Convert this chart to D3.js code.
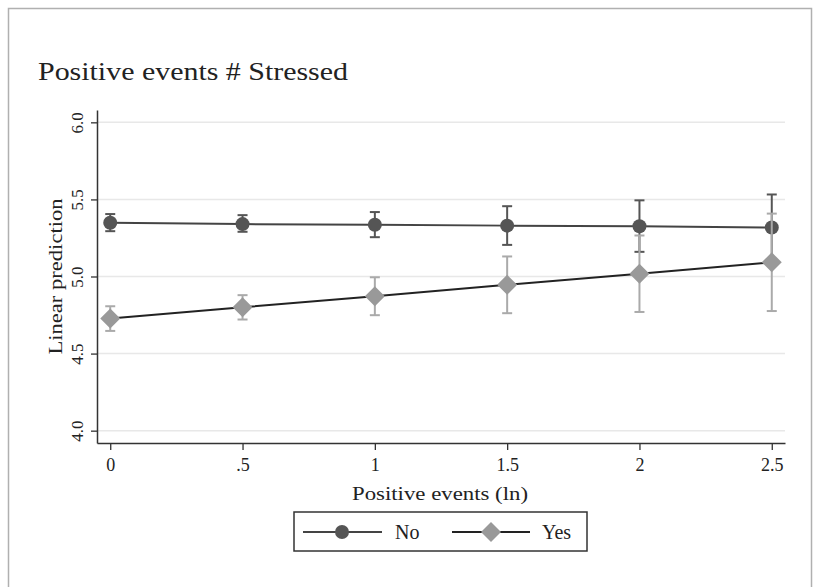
<!DOCTYPE html>
<html>
<head>
<meta charset="utf-8">
<script src="https://cdn.jsdelivr.net/npm/d3@7"></script>
<style>
  html, body { margin: 0; padding: 0; background: #fff; }
  svg { display: block; }
  text { font-family: "Liberation Serif", "DejaVu Serif", serif; fill: #222; }
</style>
</head>
<body>
<svg id="chart" width="815" height="587"></svg>
<script>
// ---- data ----
const xValues = [0, 0.5, 1, 1.5, 2, 2.5];
const xTickLabels = ["0", ".5", "1", "1.5", "2", "2.5"];
const yTicks = [4.0, 4.5, 5.0, 5.5, 6.0];
const yTickLabels = ["4.0", "4.5", "5.0", "5.5", "6.0"];
const seriesNames = ["No", "Yes"];
const noMean = [5.349, 5.340, 5.336, 5.330, 5.326, 5.318];
const noLow  = [5.294, 5.290, 5.255, 5.205, 5.160, 5.102];
const noHigh = [5.405, 5.398, 5.418, 5.456, 5.494, 5.532];
const yesMean = [4.727, 4.800, 4.872, 4.946, 5.018, 5.092];
const yesLow  = [4.647, 4.721, 4.749, 4.762, 4.770, 4.776];
const yesHigh = [4.807, 4.879, 4.995, 5.130, 5.266, 5.408];

const svg = d3.select("#chart");

// outer frame
svg.append("rect").attr("x", 8.5).attr("y", 8.5).attr("width", 803).attr("height", 600)
  .attr("fill", "none").attr("stroke", "#b0b0b0").attr("stroke-width", 1.5);

const pLeft = 97, pRight = 785, pTop = 110, pBottom = 443;
const x = d3.scaleLinear().domain([-0.05, 2.55]).range([pLeft, pRight]);
const y = d3.scaleLinear().domain([3.92, 6.08]).range([pBottom, pTop]);

// title
svg.append("text").attr("x", 38).attr("y", 80)
  .attr("font-size", 25).attr("textLength", 310).attr("lengthAdjust", "spacingAndGlyphs")
  .text("Positive events # Stressed");

// gridlines
svg.append("g").selectAll("line").data(yTicks).join("line")
  .attr("x1", pLeft).attr("x2", pRight)
  .attr("y1", d => y(d)).attr("y2", d => y(d))
  .attr("stroke", "#e8e8e8").attr("stroke-width", 1.5);

// y axis
const yAxis = svg.append("g").attr("transform", `translate(${pLeft},0)`)
  .call(d3.axisLeft(y).tickValues(yTicks).tickFormat((d, i) => yTickLabels[i]).tickSize(6).tickSizeOuter(0));
yAxis.select(".domain").attr("stroke", "#333").attr("stroke-width", 1.5);
yAxis.selectAll(".tick line").attr("stroke", "#333").attr("stroke-width", 1.3);
yAxis.selectAll(".tick text")
  .attr("font-size", 17).attr("fill", "#333")
  .attr("transform", "rotate(-90)")
  .attr("x", 0).attr("y", -20).attr("dy", "0.35em")
  .attr("text-anchor", "middle");

// x axis
const xAxis = svg.append("g").attr("transform", `translate(0,${pBottom})`)
  .call(d3.axisBottom(x).tickValues(xValues).tickFormat((d, i) => xTickLabels[i]).tickSize(7).tickSizeOuter(0));
xAxis.select(".domain").attr("stroke", "#333").attr("stroke-width", 1.5);
xAxis.selectAll(".tick line").attr("stroke", "#333").attr("stroke-width", 1.3);
xAxis.selectAll(".tick text")
  .attr("font-size", 18).attr("fill", "#333")
  .attr("y", 15).attr("dy", "0.71em");

// axis titles
svg.append("text").attr("x", 440).attr("y", 500)
  .attr("text-anchor", "middle").attr("font-size", 19)
  .attr("textLength", 176).attr("lengthAdjust", "spacingAndGlyphs")
  .text("Positive events (ln)");
svg.append("text").attr("transform", `translate(62,${(pTop + pBottom) / 2}) rotate(-90)`)
  .attr("text-anchor", "middle").attr("font-size", 19)
  .attr("textLength", 156).attr("lengthAdjust", "spacingAndGlyphs")
  .text("Linear prediction");

// series
const series = [
  { name: seriesNames[0], mean: noMean, lo: noLow, hi: noHigh, ci: "#555", line: "#444", fill: "#555", shape: "circle" },
  { name: seriesNames[1], mean: yesMean, lo: yesLow, hi: yesHigh, ci: "#aaa", line: "#222", fill: "#999", shape: "diamond" }
];
const capW = 5;
const line = d3.line().x(d => x(d[0])).y(d => y(d[1]));

series.forEach(s => {
  const g = svg.append("g");
  const rows = xValues.map((xv, i) => ({ x: xv, m: s.mean[i], lo: s.lo[i], hi: s.hi[i] }));
  g.selectAll(".ci").data(rows).join("line")
    .attr("x1", d => x(d.x)).attr("x2", d => x(d.x))
    .attr("y1", d => y(d.lo)).attr("y2", d => y(d.hi))
    .attr("stroke", s.ci).attr("stroke-width", 2);
  g.selectAll(".capLo").data(rows).join("line")
    .attr("x1", d => x(d.x) - capW).attr("x2", d => x(d.x) + capW)
    .attr("y1", d => y(d.lo)).attr("y2", d => y(d.lo))
    .attr("stroke", s.ci).attr("stroke-width", 2);
  g.selectAll(".capHi").data(rows).join("line")
    .attr("x1", d => x(d.x) - capW).attr("x2", d => x(d.x) + capW)
    .attr("y1", d => y(d.hi)).attr("y2", d => y(d.hi))
    .attr("stroke", s.ci).attr("stroke-width", 2);
  g.append("path").datum(rows.map(d => [d.x, d.m])).attr("d", line)
    .attr("fill", "none").attr("stroke", s.line).attr("stroke-width", 2);
  if (s.shape === "circle") {
    g.selectAll(".mk").data(rows).join("circle")
      .attr("cx", d => x(d.x)).attr("cy", d => y(d.m)).attr("r", 7)
      .attr("fill", s.fill);
  } else {
    g.selectAll(".mk").data(rows).join("path")
      .attr("transform", d => `translate(${x(d.x)},${y(d.m)})`)
      .attr("d", "M0,-10L10,0L0,10L-10,0Z")
      .attr("fill", s.fill);
  }
});

// legend
const lg = svg.append("g");
lg.append("rect").attr("x", 294).attr("y", 512).attr("width", 293).attr("height", 39)
  .attr("fill", "#fff").attr("stroke", "#333").attr("stroke-width", 1.5);
const legendItems = [
  { x1: 303, x2: 382, mx: 342, tx: 395, s: series[0] },
  { x1: 452, x2: 530, mx: 491, tx: 542, s: series[1] }
];
legendItems.forEach(it => {
  lg.append("line").attr("x1", it.x1).attr("x2", it.x2).attr("y1", 532).attr("y2", 532)
    .attr("stroke", it.s.line).attr("stroke-width", 2);
  if (it.s.shape === "circle") {
    lg.append("circle").attr("cx", it.mx).attr("cy", 532).attr("r", 7).attr("fill", it.s.fill);
  } else {
    lg.append("path").attr("transform", `translate(${it.mx},532)`)
      .attr("d", "M0,-10L10,0L0,10L-10,0Z").attr("fill", it.s.fill);
  }
  lg.append("text").attr("x", it.tx).attr("y", 539).attr("font-size", 20).attr("fill", "#333")
    .text(it.s.name);
});
</script>
</body>
</html>
